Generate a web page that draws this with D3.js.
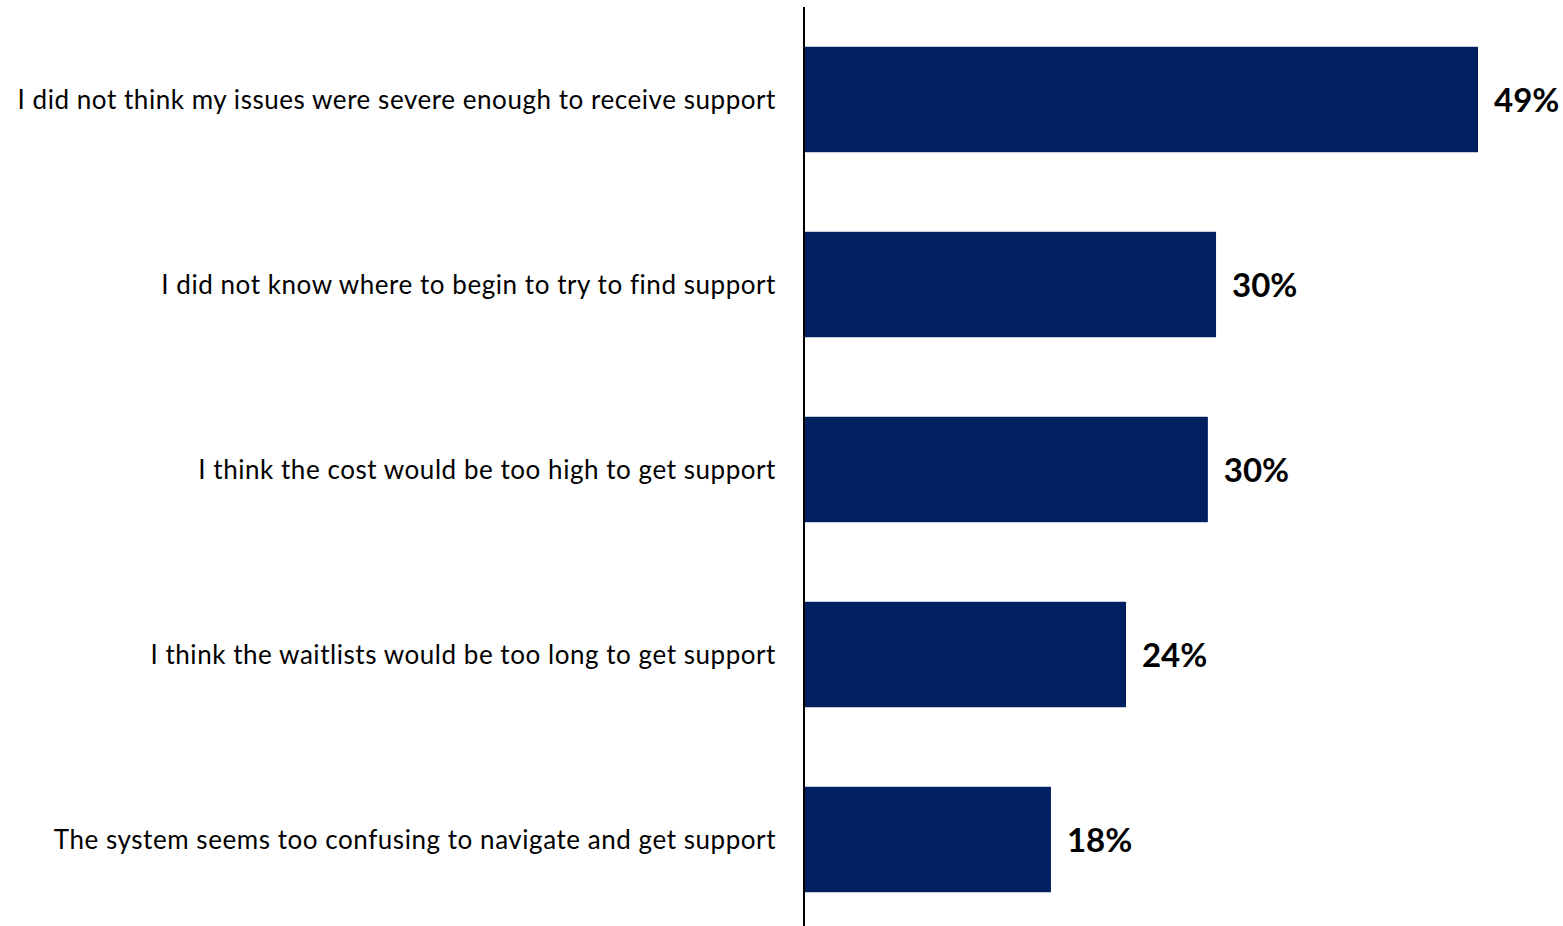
<!DOCTYPE html>
<html>
<head>
<meta charset="utf-8">
<script src="https://cdn.jsdelivr.net/npm/d3@7"></script>
<style>
  html, body { margin: 0; padding: 0; background: #fff; }
  svg { display: block; }
</style>
</head>
<body>
<svg id="chart" width="1563" height="926"></svg>
<script>
// Reasons for not seeking support (% of respondents)
const categories = [
  "I did not think my issues were severe enough to receive support",
  "I did not know where to begin to try to find support",
  "I think the cost would be too high to get support",
  "I think the waitlists would be too long to get support",
  "The system seems too confusing to navigate and get support"
];
const values = [49.4, 30.2, 29.6, 23.6, 18.1];

const data = categories.map((c, i) => ({ category: c, value: values[i] }));

const svg = d3.select("#chart");
const x0 = 804;

const x = d3.scaleLinear().domain([0, 55]).range([x0, x0 + 55 * (674 / 49.4)]);
const y = d3.scaleBand()
  .domain(categories)
  .range([7, 932])
  .paddingInner(0.43)
  .paddingOuter(0.215);

const fmt = d => d3.format(".0f")(d) + "%";

// bars
svg.append("g").selectAll("rect")
  .data(data)
  .join("rect")
  .attr("x", x(0))
  .attr("y", d => y(d.category))
  .attr("width", d => x(d.value) - x(0))
  .attr("height", y.bandwidth())
  .attr("fill", "#002060");

// category axis on the left
const axis = d3.axisLeft(y).tickSize(0).tickPadding(28);
const gAxis = svg.append("g")
  .attr("transform", `translate(${x0},0)`)
  .call(axis);
gAxis.select(".domain").remove();
gAxis.selectAll("text")
  .attr("font-family", "Lato, 'Open Sans', sans-serif")
  .attr("font-size", 26)
  .attr("letter-spacing", "0.55px")
  .attr("dy", "0.38em")
  .attr("fill", "#000");

svg.append("line")
  .attr("x1", x0).attr("x2", x0)
  .attr("y1", 7).attr("y2", 926)
  .attr("stroke", "#000")
  .attr("stroke-width", 2);

// value labels
svg.append("g").selectAll("text")
  .data(data)
  .join("text")
  .attr("x", d => x(d.value) + 16)
  .attr("y", d => y(d.category) + y.bandwidth() / 2)
  .attr("dy", "0.38em")
  .attr("font-family", "Lato, 'Open Sans', sans-serif")
  .attr("font-weight", "bold")
  .attr("font-size", 33)
  .attr("fill", "#000")
  .text(d => fmt(d.value));
</script>
</body>
</html>
